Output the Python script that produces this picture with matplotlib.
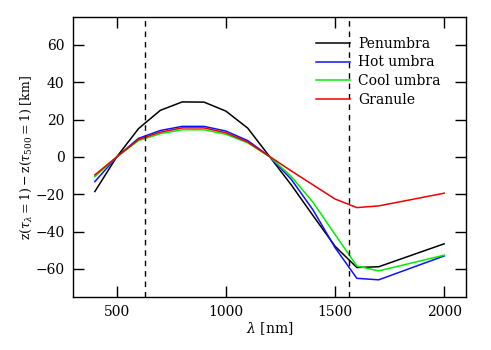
import matplotlib
matplotlib.use("Agg")
import matplotlib.pyplot as plt

wavelength = [400, 500, 600, 700, 800, 900, 1000, 1100, 1200, 1300, 1400, 1500, 1600, 1700, 2000]
penumbra = [-18.5, 0, 15.2, 25.0, 29.5, 29.4, 24.6, 15.5, 0.3, -15.0, -31.5, -47.8, -59.2, -58.8, -46.5]
hot_umbra = [-13.2, 0, 10.0, 14.2, 16.4, 16.4, 13.9, 8.8, 0.3, -12.0, -28.5, -48.5, -65.0, -65.8, -53.0]
cool_umbra = [-10.5, 0, 8.8, 12.5, 14.6, 14.6, 12.2, 7.6, 0.2, -10.5, -24.4, -41.5, -58.4, -61.0, -52.6]
granule = [-9.6, 0, 9.4, 13.3, 15.6, 15.6, 13.0, 8.0, 0.3, -7.5, -15.0, -22.5, -27.1, -26.2, -19.4]
series_labels = ["Penumbra", "Hot umbra", "Cool umbra", "Granule"]
series_colors = ["black", "#1010ff", "#00ee00", "#ee0000"]
marker_lines = [630, 1565]
x_ticks = [500, 1000, 1500, 2000]
y_ticks = [-60, -40, -20, 0, 20, 40, 60]

plt.rcParams['font.family'] = ['DejaVu Serif']
plt.rcParams['mathtext.fontset'] = 'dejavuserif'

fig = plt.figure(figsize=(4.91, 3.5), dpi=100)
ax = fig.add_axes([73/491, 1-297/350, (466-73)/491, (297-17)/350])

for ys, lab, col in zip([penumbra, hot_umbra, cool_umbra, granule], series_labels, series_colors):
    ax.plot(wavelength, ys, color=col, lw=1.1, label=lab)

for xv in marker_lines:
    ax.axvline(xv, color='black', lw=1.0, ls=(0, (4, 3.5)))

ax.set_xlim(300, 2100)
ax.set_ylim(-75, 75)
ax.set_xticks(x_ticks)
ax.set_yticks(y_ticks)
ax.set_yticklabels([str(v).replace('-', '\u2212') for v in y_ticks])
ax.tick_params(direction='in', length=8, width=1, top=True, right=True, labelsize=10, pad=6)
ax.set_xlabel(r'$\lambda$ [nm]', fontsize=10, labelpad=1)
ax.set_ylabel(r'$\mathrm{z}(\tau_\lambda = 1) - \mathrm{z}(\tau_{500} = 1)$ [km]', fontsize=9, labelpad=1)

leg = ax.legend(loc='upper left', bbox_to_anchor=(0.605, 0.95), frameon=False,
                fontsize=10, handlelength=2.4, handletextpad=0.6, labelspacing=0.35,
                borderaxespad=0)
for s in ax.spines.values():
    s.set_linewidth(1.0)

fig.savefig('out.png', dpi=100)
